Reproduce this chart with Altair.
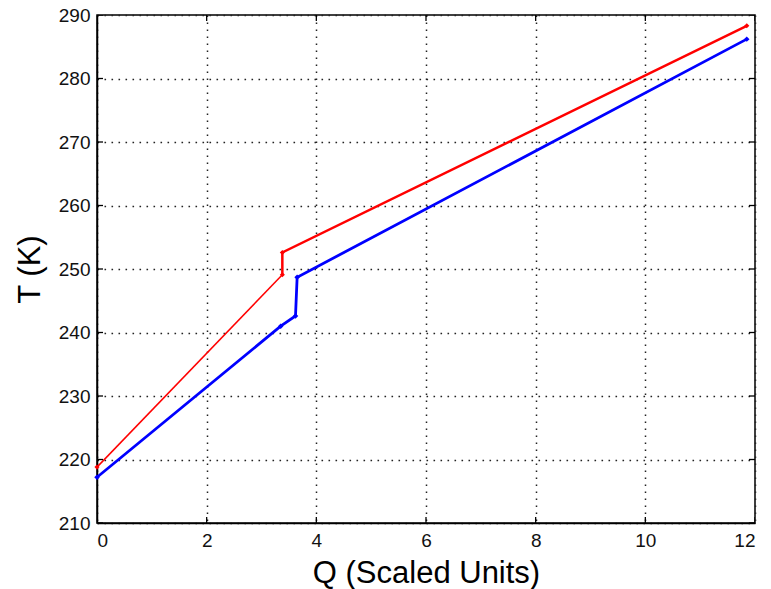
import altair as alt
import pandas as pd

# Axis tick positions
q_ticks = [0, 2, 4, 6, 8, 10, 12]
t_ticks = [210, 220, 230, 240, 250, 260, 270, 280, 290]

# Hot stream (red): lower branch and upper branch share the vertex at Q=3.38
hot_q = [0.0, 3.38, 3.38, 11.85]
hot_t = [218.8, 249.1, 252.6, 288.3]

# Cold stream (blue)
cold_q = [0.0, 3.35, 3.62, 3.65, 11.85]
cold_t = [217.2, 241.0, 242.6, 248.7, 286.2]

hot = pd.DataFrame({"Q": hot_q, "T": hot_t, "i": range(len(hot_q))})
cold = pd.DataFrame({"Q": cold_q, "T": cold_t, "i": range(len(cold_q))})

x_scale = alt.Scale(domain=[0, 12], nice=False, zero=False)
y_scale = alt.Scale(domain=[210, 290], nice=False, zero=False)

x_enc = alt.X(
    "Q:Q",
    scale=x_scale,
    title="Q (Scaled Units)",
    axis=alt.Axis(values=q_ticks, format="d", ticks=False, tickSize=0, labelPadding=8, titlePadding=8),
)
y_enc = alt.Y(
    "T:Q",
    scale=y_scale,
    title="T (K)",
    axis=alt.Axis(values=t_ticks, format="d", ticks=False, tickSize=0, labelPadding=7, titlePadding=12),
)

# Lower part of the hot curve: thin line
hot_low_line = (
    alt.Chart(hot)
    .transform_filter("datum.i <= 1")
    .mark_line(color="#ff0000", strokeWidth=1.5)
    .encode(x=x_enc, y=y_enc, order="i:Q")
)
# Upper part of the hot curve, including the vertical step
hot_high_line = (
    alt.Chart(hot)
    .transform_filter("datum.i >= 1")
    .mark_line(color="#ff0000", strokeWidth=2.5)
    .encode(x=x_enc, y=y_enc, order="i:Q")
)
hot_pts = (
    alt.Chart(hot)
    .mark_point(shape="diamond", filled=True, size=26, color="#ff0000", opacity=1)
    .encode(x=x_enc, y=y_enc)
)

cold_line = (
    alt.Chart(cold)
    .mark_line(color="#0000ff", strokeWidth=2.8)
    .encode(x=x_enc, y=y_enc, order="i:Q")
)
cold_pts = (
    alt.Chart(cold)
    .mark_point(shape="diamond", filled=True, size=30, color="#0000ff", opacity=1)
    .encode(x=x_enc, y=y_enc)
)

# Inward-pointing tick marks on all four sides (clipped to the plot frame)
xt = pd.DataFrame({"Q": q_ticks * 2, "T": [210] * len(q_ticks) + [290] * len(q_ticks)})
yt = pd.DataFrame({"Q": [0] * len(t_ticks) + [12] * len(t_ticks), "T": t_ticks * 2})
x_ticks_layer = (
    alt.Chart(xt)
    .mark_tick(orient="vertical", size=12, thickness=1.3, color="black", clip=True, opacity=1)
    .encode(x=alt.X("Q:Q", scale=x_scale), y=alt.Y("T:Q", scale=y_scale))
)
y_ticks_layer = (
    alt.Chart(yt)
    .mark_tick(orient="horizontal", size=12, thickness=1.3, color="black", clip=True, opacity=1)
    .encode(x=alt.X("Q:Q", scale=x_scale), y=alt.Y("T:Q", scale=y_scale))
)

chart = (
    alt.layer(hot_low_line, hot_high_line, hot_pts, cold_line, cold_pts, x_ticks_layer, y_ticks_layer)
    .properties(
        width=658,
        height=508,
        autosize=alt.AutoSizeParams(type="none"),
        padding={"left": 97, "top": 15, "right": 16, "bottom": 66},
        background="white",
    )
    .configure_view(stroke="black", strokeWidth=1.5)
    .configure_axis(
        grid=True,
        gridColor="#222222",
        gridDash=[1.6, 5.4],
        gridWidth=1.5,
        gridOpacity=1,
        domainColor="black",
        domainWidth=1.5,
        labelFont="Liberation Sans",
        labelFontSize=19,
        labelColor="#111111",
        titleFont="Liberation Sans",
        titleFontSize=31,
        titleFontWeight="normal",
        titleColor="black",
    )
)

chart.save("out.html", embed_options={"renderer": "svg", "actions": False})
